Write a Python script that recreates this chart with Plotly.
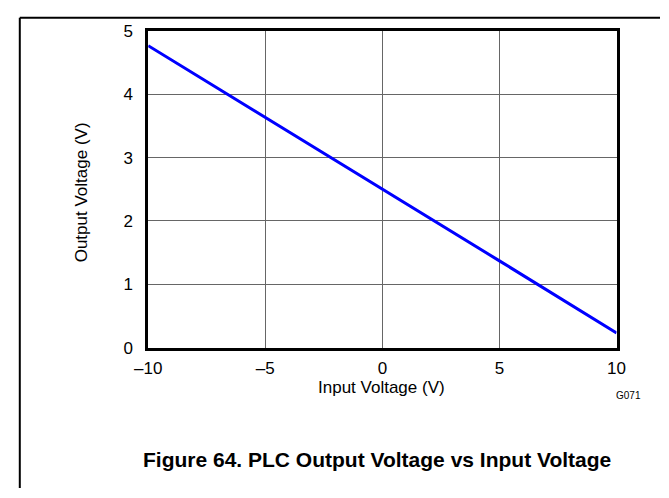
import plotly.graph_objects as go

# Transfer characteristic of the PLC stage
input_voltage = [-10, -5, 0, 5, 10]
output_voltage = [4.77, 3.64, 2.50, 1.37, 0.23]

x_ticks = [-10, -5, 0, 5, 10]
x_tick_text = ["\u201310", "\u20135", "0", "5", "10"]
y_ticks = [0, 1, 2, 3, 4, 5]
y_tick_text = ["0", "1", "2", "3", "4", "5"]

W, H = 669, 498


def px(x):
    return x / W


def py(y):
    return 1 - y / H


left, right, top, bottom = 139, 624, 23, 352

FONT = "Liberation Sans, Arial, sans-serif"

fig = go.Figure()
fig.add_trace(go.Scatter(
    x=input_voltage, y=output_voltage, mode="lines",
    line=dict(color="#0000ff", width=3), showlegend=False,
))

axis_common = dict(
    showgrid=True, gridcolor="#666666", gridwidth=1,
    showline=True, linecolor="black", linewidth=2.5, mirror=True,
    ticks="", zeroline=False,
    tickfont=dict(family=FONT, size=17, color="black"),
)

fig.update_layout(
    width=W, height=H,
    margin=dict(l=0, r=0, t=0, b=0),
    paper_bgcolor="white", plot_bgcolor="white",
    xaxis=dict(
        domain=[px(left), px(right)], range=[-10, 10],
        tickvals=x_ticks, ticktext=x_tick_text, ticklabelstandoff=3,
        **axis_common,
    ),
    yaxis=dict(
        domain=[py(bottom), py(top)], range=[0, 5],
        tickvals=y_ticks, ticktext=y_tick_text, ticklabelstandoff=9,
        **axis_common,
    ),
)

# Page frame (top and left rules)
fig.add_shape(type="line", xref="paper", yref="paper",
              x0=px(6), x1=1.0, y0=py(9), y1=py(9),
              line=dict(color="black", width=2))
fig.add_shape(type="line", xref="paper", yref="paper",
              x0=px(6), x1=px(6), y0=py(9), y1=0,
              line=dict(color="black", width=2))


def label(text, x, y, size, bold=False, angle=0):
    fig.add_annotation(
        text=f"<b>{text}</b>" if bold else text,
        xref="paper", yref="paper", x=px(x), y=py(y),
        xanchor="center", yanchor="middle", showarrow=False, textangle=angle,
        font=dict(family=FONT, size=size, color="black"),
    )


label("Input Voltage (V)", 381, 393, 17)
label("Output Voltage (V)", 70, 191, 17, angle=-90)
label("G071", 636, 402, 10)
label("Figure 64. PLC Output Voltage vs Input Voltage", 376, 468, 21, bold=True)

fig.write_html("out.html")
